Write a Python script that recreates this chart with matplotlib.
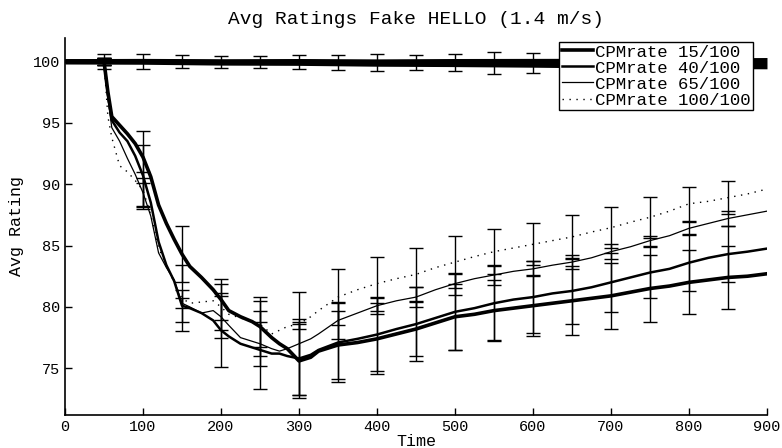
import numpy as np
from matplotlib import pyplot as plt

### DATA
time = [0, 50, 55, 60, 70, 80, 90, 100, 110, 120, 130, 140, 150, 160, 175, 190, 200, 210, 225, 240,
        250, 265, 275, 285, 300, 315, 325, 350, 375, 400, 425, 450, 475, 500, 525, 550, 575, 600,
        625, 650, 675, 700, 725, 750, 775, 800, 825, 850, 875, 900]

rate15 = [100, 100, 97.5, 95.5, 94.8, 94.1, 93.3, 92.2, 90.6, 88.3, 86.8, 85.5, 84.3, 83.3, 82.4, 81.4,
          80.6, 79.7, 79.2, 78.8, 78.4, 77.5, 77.0, 76.6, 75.6, 75.9, 76.4, 76.9, 77.1, 77.4, 77.8,
          78.2, 78.7, 79.2, 79.4, 79.7, 79.9, 80.1, 80.3, 80.5, 80.7, 80.9, 81.2, 81.5, 81.7, 82.0,
          82.2, 82.4, 82.5, 82.7]
rate40 = [100, 100, 97.3, 95.2, 94.2, 93.5, 92.3, 90.7, 88.5, 85.3, 83.4, 82.1, 80.1, 79.9, 79.5, 78.9,
          78.1, 77.6, 77.0, 76.7, 76.5, 76.2, 76.2, 76.0, 75.8, 76.1, 76.5, 77.1, 77.4, 77.75, 78.2,
          78.6, 79.1, 79.6, 79.9, 80.3, 80.6, 80.8, 81.1, 81.3, 81.6, 82.0, 82.4, 82.8, 83.1, 83.6,
          84.0, 84.3, 84.5, 84.75]
rate65 = [100, 100, 97.0, 94.6, 93.5, 92.1, 90.8, 89.3, 87.4, 84.4, 83.2, 82.2, 80.3, 80.0, 79.5, 79.7,
          79.2, 78.5, 77.5, 77.2, 77.0, 76.6, 76.4, 76.6, 77.0, 77.4, 77.8, 78.9, 79.5, 80.1, 80.5,
          80.8, 81.4, 81.9, 82.3, 82.6, 82.9, 83.1, 83.4, 83.65, 84.0, 84.5, 84.9, 85.4, 85.8, 86.4,
          86.8, 87.2, 87.5, 87.8]
rate100 = [100, 100, 95.5, 93.8, 91.5, 91.0, 90.3, 89.5, 87.5, 84.8, 83.4, 82.0, 80.7, 80.3, 80.4, 80.5,
           80.0, 79.4, 79.1, 78.8, 78.6, 77.8, 78.1, 78.4, 78.6, 79.2, 79.7, 80.8, 81.4, 81.9, 82.3,
           82.65, 83.2, 83.65, 84.1, 84.5, 84.8, 85.1, 85.4, 85.7, 86.1, 86.45, 86.9, 87.3, 87.8, 88.4,
           88.6, 88.9, 89.2, 89.6]

# error bars every 50 s
err_time = [50, 100, 150, 200, 250, 300, 350, 400, 450, 500, 550, 600, 650, 700, 750, 800, 850]
err15 = [0.3, 2.1, 2.3, 1.7, 2.4, 3.0, 2.8, 2.9, 2.2, 2.7, 2.5, 2.5, 2.8, 2.7, 2.7, 2.6, 2.6]
err40 = [0.3, 2.5, 1.3, 3.0, 3.2, 3.0, 3.2, 3.0, 3.0, 3.1, 3.0, 2.9, 2.7, 2.4, 2.1, 2.3, 2.3]
err65 = [0.3, 1.2, 0.4, 1.7, 1.8, 4.2, 1.5, 0.7, 0.8, 0.9, 0.8, 0.6, 0.6, 0.6, 0.4, 0.55, 0.6]
err100 = [0.3, 1.5, 2.7, 1.9, 1.9, 0.4, 2.3, 2.2, 2.15, 2.1, 1.85, 1.7, 1.8, 1.65, 1.65, 1.4, 1.35]

# ratings of the genuine nodes stay near 100
gen_time = [0, 100, 200, 300, 400, 500, 600, 700, 800, 900]
gen_mean = [100.0, 100.0, 99.95, 99.95, 99.9, 99.9, 99.88, 99.85, 99.85, 99.85]
gen_half = [0.22, 0.24, 0.26, 0.28, 0.3, 0.33, 0.36, 0.4, 0.43, 0.46]
gen_err = [0.6, 0.6, 0.5, 0.5, 0.5, 0.6, 0.6, 0.7, 0.6, 0.7, 0.9, 0.8, 0.7, 0.8, 0.7, 0.7, 0.9]

labels = ["CPMrate 15/100", "CPMrate 40/100", "CPMrate 65/100", "CPMrate 100/100"]

### PLOT
plt.rcParams["font.family"] = ["Liberation Mono", "DejaVu Sans Mono"]

fig = plt.figure(figsize=(7.82, 4.48), dpi=100)
ax = fig.add_axes([0.0831, 0.0737, 0.8977, 0.8415])

# genuine band at 100
gm = np.array(gen_mean)
gh = np.array(gen_half)
ax.fill_between(gen_time, gm - gh, gm + gh, color="black", lw=0)
ax.plot(gen_time, gen_mean, color="black", lw=3)
ax.errorbar(err_time, np.interp(err_time, gen_time, gen_mean), yerr=gen_err, fmt="none",
            ecolor="black", elinewidth=1, capsize=5)

series = [rate15, rate40, rate65, rate100]
errs = [err15, err40, err65, err100]
widths = [2.6, 1.8, 0.9, 1.0]
styles = ["-", "-", "-", ":"]

for vals, err, lw, ls, lab in zip(series, errs, widths, styles, labels):
    centers = np.interp(err_time, time, vals)
    ax.errorbar(err_time, centers, yerr=err, fmt="none", ecolor="black", elinewidth=1, capsize=5)
    line, = ax.plot(time, vals, color="black", lw=lw, linestyle=ls, label=lab)
    if ls == ":":
        line.set_dashes((1, 4))

ax.set_xlim(0, 900)
ax.set_ylim(71.2, 101.9)
ax.set_xticks(range(0, 901, 100))
ax.set_yticks([75, 80, 85, 90, 95, 100])
ax.spines["top"].set_visible(False)
ax.spines["right"].set_visible(False)
ax.spines["left"].set_linewidth(1.2)
ax.spines["bottom"].set_linewidth(1.2)
ax.tick_params(direction="in", length=5, width=1, labelsize=11)

ax.set_xlabel("Time", fontsize=12, labelpad=0)
ax.set_ylabel("Avg Rating", fontsize=12, labelpad=6)
ax.set_title("Avg Ratings Fake HELLO (1.4 m/s)", fontsize=14, pad=10)

leg = ax.legend(loc="upper right", bbox_to_anchor=(0.98, 0.99), fontsize=12.5, fancybox=False,
                framealpha=1, edgecolor="black", handlelength=1.8, handletextpad=0.1,
                labelspacing=0.05, borderpad=0.15, borderaxespad=0)
leg.get_frame().set_linewidth(1)

plt.savefig("out.png", dpi=100)
